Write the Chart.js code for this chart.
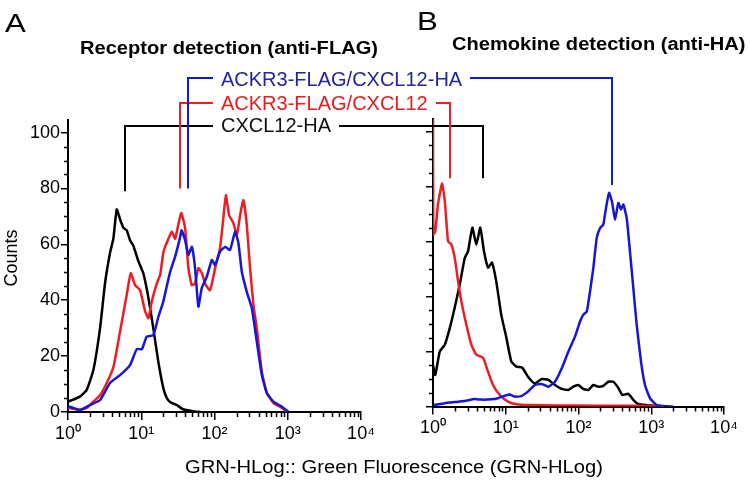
<!DOCTYPE html>
<html>
<head>
<meta charset="utf-8">
<script src="https://cdn.jsdelivr.net/npm/chart.js@4.4.1/dist/chart.umd.min.js"></script>
<style>
  html, body { margin: 0; padding: 0; background: #fff; }
  body { width: 750px; height: 483px; position: relative; overflow: hidden;
         font-family: "Liberation Sans", Arial, sans-serif; color: #000; }
  canvas { position: absolute; }
  .t { position: absolute; line-height: 1; white-space: nowrap; }
</style>
</head>
<body>
<canvas id="chartA" width="380" height="380" style="left:0px;top:100px;"></canvas>
<canvas id="chartB" width="370" height="380" style="left:380px;top:100px;"></canvas>
<canvas id="overlay" width="750" height="483" style="left:0;top:0;pointer-events:none;"></canvas>

<div class="t" style="left:5px;top:10px;font-size:26px;transform:scaleX(1.2);transform-origin:0 0;">A</div>
<div class="t" style="left:417px;top:8px;font-size:26px;transform:scaleX(1.2);transform-origin:0 0;">B</div>
<div class="t" style="left:80px;top:39px;font-size:18px;font-weight:bold;transform:scaleX(1.116);transform-origin:0 0;">Receptor detection (anti-FLAG)</div>
<div class="t" style="left:452px;top:35px;font-size:18px;font-weight:bold;transform:scaleX(1.116);transform-origin:0 0;">Chemokine detection (anti-HA)</div>

<div class="t" id="leg0" style="left:221px;top:115px;font-size:20px;color:#111;"></div>
<div class="t" id="leg1" style="left:221px;top:93px;font-size:20px;color:#e3201f;"></div>
<div class="t" id="leg2" style="left:221px;top:69px;font-size:20px;color:#25249c;"></div>

<div class="t" style="left:11px;top:258px;font-size:18px;transform:translate(-50%,-50%) rotate(-90deg);">Counts</div>
<div class="t" style="left:394px;top:458px;font-size:18px;transform:translateX(-50%) scaleX(1.12);">GRN-HLog:: Green Fluorescence (GRN-HLog)</div>

<script>
// axis ticks
const xTickValues = [1, 10, 100, 1000, 10000];
const xTickLabels = ['10⁰', '10¹', '10²', '10³', '10⁴'];
const yTickValues = [0, 20, 40, 60, 80, 100];
const yTickLabels = ['0', '20', '40', '60', '80', '100'];

// series: 0 = CXCL12-HA (black), 1 = ACKR3-FLAG/CXCL12 (red), 2 = ACKR3-FLAG/CXCL12-HA (blue)
const seriesNames = ['CXCL12-HA', 'ACKR3-FLAG/CXCL12', 'ACKR3-FLAG/CXCL12-HA'];

// panel A: receptor detection (anti-FLAG), [fluorescence, counts]
const receptorCxcl12Ha = [
  [1.0, 3.7], [1.46, 5.5], [1.8, 7.9], [2.22, 15], [2.74, 30], [3.2, 46], [3.75, 57],
  [4.16, 62], [4.63, 72.5], [5.13, 69], [5.69, 66], [6.34, 65], [7.03, 61.5], [7.8, 59.5],
  [9.13, 54], [10.7, 49.5], [12.5, 41], [14.6, 30], [17.1, 18], [20, 8.6], [22.3, 5],
  [25, 3.5], [30.5, 2.5], [37, 1], [51, 0.3], [64, 0]
];
const receptorAckr3Cxcl12 = [
  [1.0, 1.5], [1.46, 0.8], [1.8, 1.5], [2.22, 3.7], [2.74, 6], [3.38, 10.4], [4.16, 16],
  [5.13, 28.7], [6.34, 42], [7.19, 49.7], [8.23, 45.4], [9.63, 43.6], [11.3, 36], [12.5, 33.6],
  [13.9, 39.5], [16.3, 46], [18.1, 49], [20, 57], [21.1, 59], [26.1, 64.5], [29, 62],
  [35, 71.2], [39.7, 65.8], [44, 51.5], [49, 45.4], [54.3, 46], [60.3, 51.5], [67.1, 49.7],
  [76.1, 45.4], [87.1, 43.6], [102, 51.5], [119, 58.7], [132, 69.4], [143, 77.6], [158, 70.5],
  [181, 67.6], [202, 63.3], [224, 70.5], [248, 75.8], [276, 66.9], [306, 51.5], [340, 38.3],
  [378, 30], [443, 14.4], [518, 6.8], [638, 3.2], [787, 1.9], [972, 0.2]
];
const receptorAckr3Cxcl12Ha = [
  [1.0, 2.1], [1.46, 0.7], [2.0, 2.5], [2.74, 4.3], [3.75, 10.4], [5.13, 13.2], [7.03, 16.8],
  [8.68, 22.5], [10.2, 22.5], [11.9, 27], [14.6, 27.5], [17.1, 34], [20, 39.5], [22.3, 45],
  [24.7, 50], [29, 55.6], [33.9, 62.5], [35.5, 65], [39.7, 61.5], [44, 56.2], [49, 59.1],
  [54.3, 51.5], [60.3, 37.7], [67.1, 44.4], [78.5, 48.4], [91.9, 54.4], [102, 52.6], [119, 57.4],
  [140, 59.1], [163, 58], [191, 64.5], [212, 60.5], [236, 50.2], [276, 43], [323, 37.2],
  [378, 25.2], [443, 13.2], [518, 6.8], [638, 3.7], [830, 1.9], [1023, 0.1]
];

// panel B: chemokine detection (anti-HA)
const chemokineCxcl12Ha = [
  [1.0, 15], [1.075, 11.5], [1.24, 20], [1.45, 22.4], [1.7, 28.5], [1.99, 36], [2.33, 44.3],
  [2.73, 54], [3.03, 56.4], [3.47, 65], [3.94, 58.8], [4.47, 65], [5.02, 56.4], [5.7, 50.5],
  [6.47, 52.3], [7.41, 45.4], [8.68, 33.3], [10.2, 25], [11.9, 16.4], [14, 14.5], [16.9, 14.1],
  [20.2, 10.8], [25, 8.4], [31.2, 10], [38.5, 9.7], [47.5, 7.8], [58.7, 6.4], [72.4, 6],
  [84.8, 7.2], [99.4, 7.8], [116, 6.4], [136, 6], [160, 7.8], [187, 7.2], [219, 7.5],
  [257, 9], [301, 9], [353, 6.7], [400, 4.2], [484, 4.6], [567, 2.4], [664, 0.9],
  [866, 0.5], [1127, 0.3], [1500, 0]
];
const chemokineAckr3Cxcl12 = [
  [1.0, 115], [1.01, 62.5], [1.075, 63.7], [1.17, 73.5], [1.33, 81], [1.45, 75], [1.61, 60],
  [1.78, 59], [1.99, 54], [2.21, 45.6], [2.45, 38.3], [2.87, 29.8], [3.36, 22.5], [3.94, 18.8],
  [4.87, 17.7], [5.7, 12.7], [6.68, 7.8], [8.26, 4.2], [10.7, 1.8], [14, 0.8], [20, 0.5],
  [50, 0.4], [200, 0.3], [700, 0.3], [1500, 0]
];
const chemokineAckr3Cxcl12Ha = [
  [1.0, 0.5], [1.45, 1.2], [1.99, 1.6], [2.73, 2], [3.74, 2.7], [4.61, 2.5], [6.33, 2.6],
  [7.82, 3], [9.67, 3.9], [11.3, 4.4], [13.3, 3.6], [16.4, 3.8], [20.2, 5.4], [25, 7.8],
  [31.2, 8.2], [38.5, 7.2], [47.5, 9], [58.7, 13.8], [72.4, 19.9], [89.5, 25.4], [105, 30.9],
  [116, 33.3], [130, 34.5], [144, 41.8], [160, 50.4], [178, 61.3], [198, 64.9], [219, 66.1],
  [239, 72.2], [263, 77.7], [291, 74], [317, 67.9], [353, 74], [384, 71.6], [413, 73.4],
  [460, 68.5], [510, 56.3], [567, 43], [631, 29.7], [723, 16.3], [820, 7.8], [962, 3],
  [1188, 0.5], [1465, 0.2], [2000, 0]
];

// legend brackets: where each bracket drops onto a peak (fluorescence) and how low (counts)
const bracketDropA = [6.0, 34, 43];
const bracketDropB = [4.9, 1.7, 290];
const bracketEndA = [79, 80, 80];
const bracketEndB = [83, 83, 80.5];

const lineColors = ['#000000', '#ee1d23', '#1616d8'];
const legendLevels = [126, 103, 78];
const FONT = '"Liberation Sans", Arial, sans-serif';

const minorTicks = {
  id: 'minorTicks',
  afterDraw(chart) {
    const { ctx, chartArea, scales: { x, y } } = chart;
    ctx.save();
    ctx.strokeStyle = '#000';
    ctx.lineWidth = 1.5;
    ctx.beginPath();
    for (let d = 0; d < 4; d++) {
      for (let m = 2; m <= 9; m++) {
        const px = Math.round(x.getPixelForValue(m * Math.pow(10, d))) + 0.5;
        ctx.moveTo(px, chartArea.bottom);
        ctx.lineTo(px, chartArea.bottom + 5);
      }
    }
    for (let v = 5; v < 100; v += 5) {
      if (v % 20 === 0) continue;
      const py = Math.round(y.getPixelForValue(v)) + 0.5;
      ctx.moveTo(chartArea.left - 4, py);
      ctx.lineTo(chartArea.left, py);
    }
    ctx.stroke();
    ctx.restore();
  }
};

function makeChart(id, series, yWidth, xHeight, padTop, padRight, showYLabels) {
  const datasets = [2, 1, 0].map(i => ({
    label: seriesNames[i],
    data: series[i].map(p => ({ x: p[0], y: p[1] })),
    borderColor: lineColors[i],
    borderWidth: 2.5,
    pointRadius: 0,
    tension: 0.15,
    fill: false
  }));
  return new Chart(document.getElementById(id), {
    type: 'line',
    data: { datasets },
    plugins: [minorTicks],
    options: {
      responsive: false,
      animation: false,
      devicePixelRatio: 1,
      layout: { padding: { top: padTop, right: padRight, left: 0, bottom: 0 } },
      plugins: { legend: { display: false }, tooltip: { enabled: false } },
      scales: {
        x: {
          type: 'logarithmic', min: 1, max: 10000,
          afterBuildTicks: s => { s.ticks = xTickValues.map(v => ({ value: v })); },
          afterFit: s => { s.height = xHeight; },
          ticks: { callback: (v, i) => xTickLabels[i], autoSkip: false, maxRotation: 0,
                   color: '#000', padding: 3, font: { family: FONT, size: 18 } },
          grid: { drawOnChartArea: false, color: '#000', lineWidth: 1.5, tickLength: 8 },
          border: { color: '#000', width: 2 }
        },
        y: {
          min: 0, max: 104.5,
          afterBuildTicks: s => { s.ticks = yTickValues.map(v => ({ value: v })); },
          afterFit: s => { s.width = yWidth; },
          ticks: { callback: (v, i) => showYLabels ? yTickLabels[i] : '', autoSkip: false,
                   color: '#000', padding: 1, font: { family: FONT, size: 18 } },
          grid: { drawOnChartArea: false, color: '#000', lineWidth: 1.5, tickLength: 7 },
          border: { color: '#000', width: 2 }
        }
      }
    }
  });
}

const chartA = makeChart('chartA', [receptorCxcl12Ha, receptorAckr3Cxcl12, receptorAckr3Cxcl12Ha],
                         68, 68, 20, 19, true);
const chartB = makeChart('chartB', [chemokineCxcl12Ha, chemokineAckr3Cxcl12, chemokineAckr3Cxcl12Ha],
                         53, 73.5, 19, 26, false);

// legend labels and bracket lines across both panels
seriesNames.forEach((n, i) => { document.getElementById('leg' + i).textContent = n; });

const ov = document.getElementById('overlay').getContext('2d');
const pageX = (c, v) => c.canvas.offsetLeft + c.scales.x.getPixelForValue(v);
const pageY = (c, v) => c.canvas.offsetTop + c.scales.y.getPixelForValue(v);
seriesNames.forEach((n, i) => {
  const lab = document.getElementById('leg' + i);
  const level = legendLevels[i];
  const xa = Math.round(pageX(chartA, bracketDropA[i]));
  const xb = Math.round(pageX(chartB, bracketDropB[i]));
  ov.strokeStyle = lineColors[i];
  ov.lineWidth = 2;
  ov.beginPath();
  ov.moveTo(xa, pageY(chartA, bracketEndA[i]));
  ov.lineTo(xa, level);
  ov.lineTo(lab.offsetLeft - 8, level);
  ov.moveTo(lab.offsetLeft + lab.offsetWidth + 8, level);
  ov.lineTo(xb, level);
  ov.lineTo(xb, pageY(chartB, bracketEndB[i]));
  ov.stroke();
});
</script>
</body>
</html>
